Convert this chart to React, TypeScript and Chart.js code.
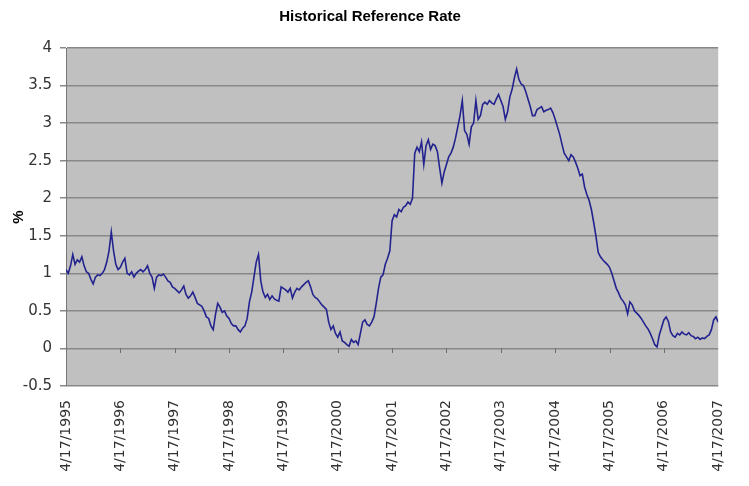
import React, { useEffect, useRef } from 'react';
import { Chart, registerables } from 'chart.js';

Chart.register(...registerables);

const chartTitle = 'Historical Reference Rate';
const yAxisTitle = '%';
const tickLabels = [
  '4/17/1995', '4/17/1996', '4/17/1997', '4/17/1998', '4/17/1999', '4/17/2000', '4/17/2001',
  '4/17/2002', '4/17/2003', '4/17/2004', '4/17/2005', '4/17/2006', '4/17/2007',
];

// Rate (%) read roughly every half month, one array per year starting 4/17
const r1995 = [1.05, 1.0, 1.1, 1.25, 1.12, 1.18, 1.15, 1.22, 1.1, 1.02, 1.0, 0.92, 0.86, 0.95, 0.98, 0.97, 1.0, 1.05, 1.15, 1.3, 1.55, 1.3, 1.12, 1.05];
const r1996 = [1.08, 1.15, 1.2, 1.0, 0.98, 1.02, 0.95, 1.0, 1.03, 1.05, 1.02, 1.05, 1.1, 1.0, 0.95, 0.8, 0.95, 0.98, 0.97, 0.99, 0.95, 0.9, 0.88, 0.82];
const r1997 = [0.8, 0.77, 0.74, 0.78, 0.83, 0.72, 0.67, 0.7, 0.75, 0.68, 0.6, 0.58, 0.56, 0.5, 0.42, 0.4, 0.3, 0.25, 0.45, 0.6, 0.55, 0.48, 0.5, 0.43];
const r1998 = [0.4, 0.33, 0.3, 0.3, 0.25, 0.22, 0.27, 0.3, 0.4, 0.62, 0.75, 0.95, 1.15, 1.25, 0.9, 0.75, 0.68, 0.72, 0.65, 0.7, 0.66, 0.64, 0.63, 0.82];
const r1999 = [0.8, 0.78, 0.75, 0.8, 0.67, 0.75, 0.8, 0.78, 0.82, 0.85, 0.88, 0.9, 0.82, 0.72, 0.68, 0.66, 0.62, 0.58, 0.55, 0.52, 0.35, 0.25, 0.3, 0.2];
const r2000 = [0.15, 0.22, 0.1, 0.08, 0.05, 0.03, 0.12, 0.08, 0.1, 0.05, 0.2, 0.35, 0.38, 0.32, 0.3, 0.35, 0.42, 0.6, 0.8, 0.95, 0.98, 1.12, 1.2, 1.3];
const r2001 = [1.7, 1.78, 1.75, 1.85, 1.82, 1.88, 1.9, 1.95, 1.92, 2.0, 2.6, 2.68, 2.62, 2.75, 2.45, 2.7, 2.78, 2.65, 2.72, 2.7, 2.62, 2.4, 2.2, 2.35];
const r2002 = [2.45, 2.55, 2.6, 2.68, 2.8, 2.95, 3.1, 3.3, 2.9, 2.85, 2.72, 2.95, 3.0, 3.3, 3.05, 3.1, 3.25, 3.28, 3.25, 3.3, 3.27, 3.25, 3.32, 3.38];
const r2003 = [3.3, 3.22, 3.05, 3.15, 3.35, 3.45, 3.6, 3.72, 3.58, 3.52, 3.5, 3.42, 3.32, 3.22, 3.1, 3.1, 3.18, 3.2, 3.22, 3.15, 3.17, 3.18, 3.2, 3.14];
const r2004 = [3.05, 2.95, 2.85, 2.72, 2.6, 2.55, 2.5, 2.58, 2.55, 2.48, 2.4, 2.3, 2.32, 2.15, 2.05, 1.97, 1.85, 1.68, 1.5, 1.28, 1.22, 1.18, 1.15, 1.12];
const r2005 = [1.08, 1.0, 0.9, 0.8, 0.74, 0.67, 0.63, 0.58, 0.46, 0.62, 0.58, 0.5, 0.47, 0.44, 0.4, 0.35, 0.3, 0.26, 0.2, 0.13, 0.05, 0.02, 0.18, 0.28];
const r2006 = [0.38, 0.42, 0.36, 0.22, 0.17, 0.15, 0.2, 0.18, 0.22, 0.19, 0.18, 0.21, 0.17, 0.16, 0.13, 0.15, 0.12, 0.14, 0.13, 0.16, 0.18, 0.25, 0.38, 0.42];
const r2007 = [0.35];

const yearSeries = [r1995, r1996, r1997, r1998, r1999, r2000, r2001, r2002, r2003, r2004, r2005, r2006];

export default function App() {
  const ref = useRef<HTMLCanvasElement>(null);

  useEffect(() => {
    if (!ref.current) return;
    const points: { x: number; y: number }[] = [];
    yearSeries.forEach((arr, yi) => {
      arr.forEach((v, k) => points.push({ x: yi + k / arr.length, y: v }));
    });
    points.push({ x: yearSeries.length, y: r2007[0] });

    const plotBg = {
      id: 'plotBg',
      beforeDraw(chart: any) {
        const { ctx, chartArea: a } = chart;
        ctx.save();
        ctx.fillStyle = '#c0c0c0';
        ctx.fillRect(a.left, a.top, a.right - a.left, a.bottom - a.top);
        ctx.restore();
      },
    };

    const zeroTicks = {
      id: 'zeroTicks',
      beforeDatasetsDraw(chart: any) {
        const { ctx } = chart;
        const xs = chart.scales.x;
        const ys = chart.scales.y;
        const y0 = Math.round(ys.getPixelForValue(0));
        ctx.save();
        ctx.strokeStyle = '#6e6e6e';
        ctx.lineWidth = 1;
        for (let i = 1; i < tickLabels.length - 1; i++) {
          const x = Math.round(xs.getPixelForValue(i)) + 0.5;
          ctx.beginPath();
          ctx.moveTo(x, y0);
          ctx.lineTo(x, y0 + 5);
          ctx.stroke();
        }
        ctx.restore();
      },
    };

    const chart = new Chart(ref.current, {
      type: 'line',
      data: {
        datasets: [
          {
            data: points,
            borderColor: '#23238f',
            borderWidth: 1.6,
            pointRadius: 0,
            tension: 0,
            fill: false,
          },
        ],
      },
      options: {
        responsive: false,
        devicePixelRatio: 1,
        animation: false,
        layout: { padding: { left: 0, right: 9, top: 0, bottom: 0 } },
        plugins: {
          legend: { display: false },
          tooltip: { enabled: false },
          title: {
            display: true,
            text: chartTitle,
            color: '#000',
            font: { family: 'Liberation Sans', size: 15, weight: 'bold', lineHeight: 1.2 },
            padding: { top: 8, bottom: 22 },
          },
        },
        scales: {
          x: {
            type: 'linear',
            min: 0,
            max: tickLabels.length - 1,
            position: 'bottom',
            grid: { display: false, drawTicks: false },
            border: { display: false },
            ticks: {
              stepSize: 1,
              autoSkip: false,
              minRotation: 90,
              maxRotation: 90,
              padding: 14,
              color: '#333',
              font: { family: 'DejaVu Sans', size: 14 },
              callback: (_v: any, i: number) => tickLabels[i],
            },
            afterFit: (s: any) => {
              s.height = 100;
            },
          },
          y: {
            min: -0.5,
            max: 4,
            grid: { color: '#888888', lineWidth: 1.5, tickLength: 6 },
            border: { color: '#777', width: 1 },
            ticks: {
              stepSize: 0.5,
              padding: 8,
              color: '#333',
              font: { family: 'DejaVu Sans', size: 15 },
              callback: (v: any) => String(Number(Number(v).toFixed(1))),
            },
            title: {
              display: true,
              text: yAxisTitle,
              color: '#000',
              font: { family: 'Liberation Sans', size: 15, weight: 'bold' },
              padding: { top: 10, bottom: 0 },
            },
            afterFit: (s: any) => {
              s.width = 66;
            },
          },
        },
      },
      plugins: [plotBg, zeroTicks],
    } as any);

    return () => chart.destroy();
  }, []);

  return (
    <div style={{ position: 'fixed', left: 0, top: 0, width: 749, height: 486, background: '#fff' }}>
      <canvas ref={ref} width={749} height={486} style={{ display: 'block' }} />
    </div>
  );
}
